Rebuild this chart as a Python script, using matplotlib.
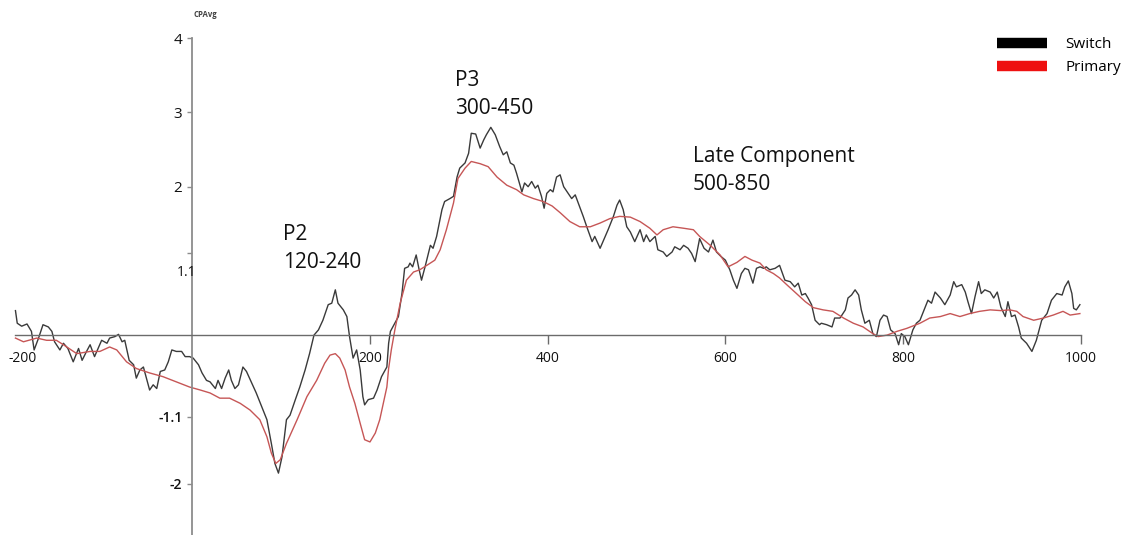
import matplotlib
matplotlib.use('Agg')
import matplotlib.pyplot as plt
from matplotlib.lines import Line2D

plt.rcParams['font.family'] = ['Open Sans', 'DejaVu Sans']

# Switch condition (black), time in ms / amplitude
switch_ms = [-199, -197, -192, -186, -183, -181, -178, -173, -168, -162,
             -158, -155, -149, -145, -140, -134, -128, -124, -119, -115,
             -110, -106, -102, -96, -93, -87, -83, -79, -76, -71,
             -66, -63, -59, -55, -51, -48, -44, -40, -36, -31,
             -27, -23, -18, -12, -8, -3, 1, 7,
             11, 16, 20, 26, 29, 33, 37, 41, 44, 48,
             52, 57, 61, 67, 72, 78, 84, 89, 93, 97,
             101, 106, 110, 116, 121, 127, 132, 137, 142, 147,
             153, 157, 161, 164, 170, 174, 177, 181, 185, 189,
             192, 194, 198, 204, 208, 213, 219,
             221, 223, 228, 232, 236, 239, 243, 245, 248, 252,
             255, 258, 262, 268, 271, 275, 281, 284, 290, 294,
             298, 301, 307, 311, 314, 319, 324, 328, 331, 336,
             341, 346, 350, 354, 358, 362, 365, 371, 374, 378,
             382, 386, 389, 393, 396, 399, 403, 406, 410, 414,
             418, 423, 427, 431, 436, 440, 444, 450, 453, 459,
             463, 468, 474, 478, 481, 485, 489, 493, 498, 504,
             508, 511, 515, 521, 524, 530, 534, 540, 543, 549,
             553, 558, 562, 566, 571, 576, 581, 586, 590, 595,
             600, 605, 609, 613, 618, 622, 626, 631, 635, 639,
             643, 646, 650, 656, 661, 667, 673, 678, 682, 686,
             690, 693, 697, 701, 706, 708, 714, 720, 723, 729,
             735, 738, 742, 746, 750, 753, 757, 762, 766, 770,
             774, 778, 782, 786, 791, 795, 798, 802, 806, 811,
             815, 819,
             825, 828, 832, 836, 842, 847, 853, 857, 860, 866,
             870, 873, 877, 881, 885, 888, 892, 898, 902, 906,
             910, 915, 918, 922, 926, 930, 933, 939, 945, 950,
             956, 962, 967, 973, 979, 982, 986, 990, 992, 995,
             999]
switch_uv = [0.33, 0.16, 0.12, 0.15, 0.09, 0.05, -0.20, -0.04, 0.14, 0.11,
             0.05, -0.09, -0.20, -0.11, -0.18, -0.36, -0.18, -0.34, -0.22, -0.13,
             -0.29, -0.18, -0.07, -0.11, -0.04, -0.02, 0.01, -0.09, -0.07, -0.34,
             -0.40, -0.58, -0.47, -0.43, -0.61, -0.74, -0.67, -0.72, -0.49, -0.47,
             -0.36, -0.20, -0.22, -0.22, -0.29, -0.29, -0.31, -0.40,
             -0.51, -0.61, -0.63, -0.72, -0.61, -0.72, -0.58, -0.47, -0.61, -0.72,
             -0.67, -0.43, -0.49, -0.65, -0.78, -0.96, -1.14, -1.46, -1.73, -1.86,
             -1.64, -1.14, -1.08, -0.87, -0.70, -0.47, -0.25, 0.00, 0.07, 0.20,
             0.41, 0.43, 0.61, 0.43, 0.34, 0.25, -0.02, -0.31, -0.20, -0.47,
             -0.83, -0.94, -0.87, -0.85, -0.74, -0.56, -0.43,
             -0.11, 0.05, 0.16, 0.25, 0.56, 0.90, 0.92, 0.97, 0.92, 1.08,
             0.90, 0.74, 0.92, 1.21, 1.17, 1.33, 1.69, 1.80, 1.84, 1.87,
             2.13, 2.25, 2.32, 2.45, 2.72, 2.71, 2.52, 2.63, 2.70, 2.80,
             2.70, 2.54, 2.43, 2.47, 2.32, 2.29, 2.18, 1.93, 2.05, 2.00,
             2.07, 1.98, 2.02, 1.87, 1.71, 1.91, 1.96, 1.93, 2.13, 2.16,
             2.00, 1.91, 1.84, 1.89, 1.73, 1.60, 1.46, 1.26, 1.33, 1.17,
             1.28, 1.42, 1.60, 1.75, 1.82, 1.69, 1.46, 1.39, 1.26, 1.42,
             1.26, 1.35, 1.26, 1.33, 1.15, 1.12, 1.06, 1.12, 1.19, 1.15,
             1.21, 1.17, 1.10, 0.99, 1.30, 1.17, 1.12, 1.28, 1.12, 1.06,
             1.01, 0.88, 0.74, 0.63, 0.83, 0.90, 0.88, 0.70, 0.90, 0.92,
             0.90, 0.92, 0.88, 0.90, 0.94, 0.74, 0.72, 0.65, 0.70, 0.54,
             0.56, 0.50, 0.41, 0.20, 0.14, 0.16, 0.14, 0.11, 0.23, 0.23,
             0.34, 0.50, 0.54, 0.61, 0.54, 0.34, 0.16, 0.20, 0.02, -0.02,
             0.20, 0.27, 0.25, 0.07, 0.02, -0.13, 0.02, -0.02, -0.13, 0.07,
             0.16, 0.20,
             0.38, 0.47, 0.43, 0.58, 0.50, 0.41, 0.54, 0.72, 0.65, 0.68,
             0.58, 0.45, 0.29, 0.52, 0.72, 0.56, 0.61, 0.58, 0.50, 0.58,
             0.38, 0.25, 0.45, 0.25, 0.27, 0.11, -0.04, -0.11, -0.22, -0.07,
             0.20, 0.29, 0.47, 0.56, 0.54, 0.65, 0.73, 0.56, 0.36, 0.34,
             0.41]

# Primary condition (red)
primary_ms = [-199, -190, -175, -164, -153, -145, -130, -115, -104, -93,
              -85, -74, -63, -48, -33, -18, -3, 9, 20, 31,
              42, 54, 65, 76, 84, 89, 94, 99, 106, 118,
              129, 140, 149, 155, 161, 166, 172, 177, 183, 189,
              194, 200, 206, 211, 219, 221, 224, 228, 234, 241,
              249, 256, 264, 273, 279, 286, 294, 299, 307, 314,
              324, 333, 343, 354, 365, 373, 384, 395, 405, 414,
              425, 436, 448, 459, 470, 481, 493, 504, 515, 523,
              530, 541, 553, 564, 571, 583, 594, 603, 613, 622,
              630, 639, 646, 654, 661, 669, 680, 690, 699, 710,
              721, 733, 744, 755, 766, 772, 782, 793, 804, 819,
              830, 842, 853, 864, 875, 886, 898, 910, 920, 928,
              935, 947, 958, 969, 980, 988, 999]
primary_uv = [-0.04, -0.09, -0.04, -0.07, -0.07, -0.13, -0.25, -0.22, -0.22, -0.16,
              -0.20, -0.36, -0.45, -0.51, -0.56, -0.63, -0.70, -0.74, -0.78, -0.85,
              -0.85, -0.92, -1.01, -1.14, -1.37, -1.59, -1.73, -1.68, -1.46, -1.14,
              -0.83, -0.61, -0.38, -0.27, -0.25, -0.31, -0.47, -0.70, -0.92, -1.19,
              -1.41, -1.44, -1.32, -1.14, -0.70, -0.45, -0.20, 0.07, 0.43, 0.74,
              0.85, 0.88, 0.94, 1.01, 1.15, 1.42, 1.78, 2.11, 2.25, 2.34,
              2.31, 2.27, 2.13, 2.02, 1.96, 1.89, 1.84, 1.80, 1.74, 1.65,
              1.53, 1.46, 1.46, 1.51, 1.57, 1.60, 1.59, 1.53, 1.44, 1.35,
              1.42, 1.46, 1.44, 1.42, 1.33, 1.21, 1.08, 0.92, 0.98, 1.06,
              1.01, 0.97, 0.88, 0.83, 0.77, 0.68, 0.56, 0.45, 0.37, 0.34,
              0.32, 0.23, 0.16, 0.11, 0.02, -0.02, 0.00, 0.05, 0.09, 0.16,
              0.23, 0.25, 0.29, 0.25, 0.29, 0.32, 0.34, 0.33, 0.34, 0.32,
              0.25, 0.20, 0.23, 0.27, 0.32, 0.27, 0.29]

assert len(switch_ms) == len(switch_uv), (len(switch_ms), len(switch_uv))
assert len(primary_ms) == len(primary_uv), (len(primary_ms), len(primary_uv))

x_ticks = [200, 400, 600, 800, 1000]
y_ticks = [4, 3, 2, 1.1, -1.1, -2]
y_labels = ['4', '3', '2', '', '-1.1', '-2']

fig = plt.figure(figsize=(11.34, 5.35), dpi=100)
ax = fig.add_axes([0, 0, 1, 1])
ax.set_xlim(-216.4, 1059.9)
ax.set_ylim(-2.694, 4.516)

ax.plot(switch_ms, switch_uv, color='#3a3a3a', lw=1.0)
ax.plot(primary_ms, primary_uv, color='#c65656', lw=1.0)

# axes crossing at zero
for s in ['top', 'right']:
    ax.spines[s].set_visible(False)
ax.spines['left'].set_position(('data', 0))
ax.spines['bottom'].set_position(('data', 0))
ax.spines['left'].set_bounds(-2.694, 4)
ax.spines['bottom'].set_bounds(-200, 1000)
ax.spines['left'].set_color('#8c8c8c')
ax.spines['left'].set_linewidth(1.3)
ax.spines['bottom'].set_color('#6b6b6b')
ax.spines['bottom'].set_linewidth(1.0)

ax.set_xticks(x_ticks)
ax.set_xticklabels([str(t) for t in x_ticks])
ax.tick_params(axis='x', direction='out', length=6.5, width=1, color='#6b6b6b',
               pad=5, labelsize=10, labelcolor='#111111')
ax.set_yticks(y_ticks)
ax.set_yticklabels(y_labels)
ax.tick_params(axis='y', direction='out', length=3.6, width=1, color='#8c8c8c',
               pad=3.6, labelsize=11, labelcolor='#111111')
for lab in ax.get_yticklabels():
    if lab.get_text() in ('-1.1', '-2'):
        lab.set_fontsize(10)
        lab.set_fontweight('semibold')

ax.text(-191, 0, '-200', ha='center', va='top', fontsize=10, color='#111111',
        transform=ax.transData + matplotlib.transforms.ScaledTranslation(0, -16 / 100, fig.dpi_scale_trans))
ax.text(-6.5, 0.84, '1.1', ha='center', va='center', fontsize=10, color='#111111')
ax.text(14.3, 4.32, 'CPAvg', ha='center', va='center', fontsize=5.6, fontweight='bold', color='#444444')

# component annotations
ann = dict(fontsize=15, color='#111111', ha='left', va='baseline')
ax.text(102, 1.28, 'P2', **ann)
ax.text(102, 0.90, '120-240', **ann)
ax.text(296, 3.36, 'P3', **ann)
ax.text(296, 2.98, '300-450', **ann)
ax.text(563, 2.33, 'Late Component', **ann)
ax.text(563, 1.96, '500-850', **ann)

handles = [Line2D([0], [0], color='black', lw=7.5, solid_capstyle='butt'),
           Line2D([0], [0], color='#ee1111', lw=7.5, solid_capstyle='butt')]
ax.legend(handles, ['Switch', 'Primary'], loc='upper left', frameon=False,
          bbox_to_anchor=(997 / 1134, 1 - 37 / 535), bbox_transform=fig.transFigure,
          borderpad=0, borderaxespad=0, fontsize=11, handlelength=3.3,
          handletextpad=1.2, labelspacing=0.55)

fig.savefig('out.png', dpi=100)
